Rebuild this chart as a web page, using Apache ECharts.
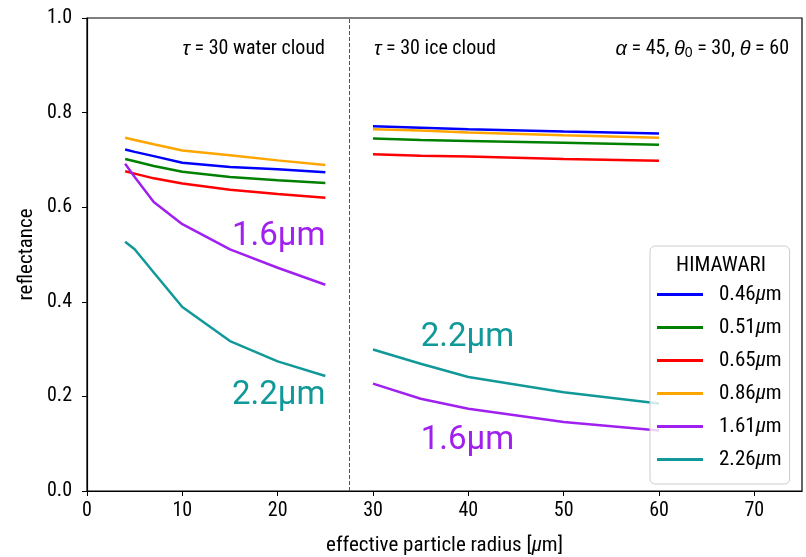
<!DOCTYPE html>
<html>
<head>
<meta charset="utf-8">
<script src="https://cdn.jsdelivr.net/npm/echarts@6/dist/echarts.min.js"></script>
<style>
  html, body { margin: 0; background: #fff; }
  #chart { width: 806px; height: 557px; }
</style>
</head>
<body>
<div id="chart"></div>
<script>
// effective radius sampled for each cloud phase
const waterRadius = [4, 5, 7, 10, 15, 20, 25];
const iceRadius = [30, 35, 40, 50, 60];

// HIMAWARI bands (legend order)
const bands = ['0.46', '0.51', '0.65', '0.86', '1.61', '2.26'];
const bandColors = ['#0000ff', '#008000', '#ff0000', '#ffa500', '#a020f0', '#119999'];

// reflectance, tau = 30 water cloud
const water046 = [0.722, 0.717, 0.708, 0.694, 0.685, 0.680, 0.674];
const water051 = [0.702, 0.697, 0.687, 0.675, 0.664, 0.657, 0.651];
const water065 = [0.676, 0.671, 0.661, 0.650, 0.637, 0.628, 0.620];
const water086 = [0.747, 0.742, 0.733, 0.720, 0.710, 0.699, 0.689];
const water161 = [0.692, 0.664, 0.611, 0.564, 0.511, 0.472, 0.436];
const water226 = [0.527, 0.511, 0.462, 0.389, 0.317, 0.274, 0.243];

// reflectance, tau = 30 ice cloud
const ice046 = [0.771, 0.768, 0.765, 0.760, 0.756];
const ice051 = [0.745, 0.742, 0.740, 0.736, 0.732];
const ice065 = [0.712, 0.709, 0.707, 0.702, 0.698];
const ice086 = [0.765, 0.762, 0.758, 0.752, 0.747];
const ice161 = [0.227, 0.195, 0.174, 0.146, 0.128];
const ice226 = [0.299, 0.269, 0.241, 0.209, 0.185];

const waterSets = [water046, water051, water065, water086, water161, water226];
const iceSets = [ice046, ice051, ice065, ice086, ice161, ice226];

const xTicks = [0, 10, 20, 30, 40, 50, 60, 70];
const phaseSplit = 27.5;

// big in-plot labels: [x, y, text, colour index, side]
const notes = [
  [25, 0.538, '1.6μm', 4, 'left'],
  [25, 0.202, '2.2μm', 5, 'left'],
  [35, 0.323, '2.2μm', 5, 'right'],
  [35, 0.107, '1.6μm', 4, 'right']
];

const font = '"Roboto Condensed", "Liberation Sans Narrow", Roboto, sans-serif';

const chart = echarts.init(document.getElementById('chart'));

const series = [];
bands.forEach((b, i) => {
  const common = {
    name: b,
    type: 'line',
    symbol: 'none',
    color: bandColors[i],
    lineStyle: { width: 2.5, color: bandColors[i] },
    itemStyle: { color: bandColors[i] },
    z: 3
  };
  series.push(Object.assign({}, common, {
    data: waterRadius.map((r, k) => [r, waterSets[i][k]])
  }));
  series.push(Object.assign({}, common, {
    data: iceRadius.map((r, k) => [r, iceSets[i][k]])
  }));
});

// phase divider
series[0].markLine = {
  silent: true,
  symbol: ['none', 'none'],
  label: { show: false },
  lineStyle: { type: [4, 2], color: '#555', width: 1 },
  data: [{ xAxis: phaseSplit }]
};

series.push({
  name: 'notes',
  type: 'scatter',
  symbolSize: 0,
  silent: true,
  itemStyle: { opacity: 1 },
  data: notes.map(n => ({
    value: [n[0], n[1]],
    label: {
      show: true,
      position: n[4],
      distance: 0,
      formatter: n[2],
      color: bandColors[n[3]],
      opacity: 1,
      fontSize: 33,
      fontFamily: 'Roboto, sans-serif'
    }
  }))
});

const option = {
  animation: false,
  backgroundColor: '#fff',
  textStyle: { fontFamily: font },
  grid: {
    left: 87, right: 4, top: 18, bottom: 66,
    show: true, borderColor: '#000', borderWidth: 1.2,
    outerBoundsMode: 'none'
  },
  xAxis: {
    type: 'value',
    min: 0, max: 75,
    name: 'effective particle radius [{i|μ}m]',
    nameLocation: 'middle',
    nameGap: 44,
    nameMoveOverlap: false,
    nameTextStyle: { fontSize: 21, color: '#000', rich: { i: { fontStyle: 'italic', fontSize: 21 } } },
    splitLine: { show: false },
    axisLine: { lineStyle: { color: '#000', width: 1.2 } },
    axisTick: { customValues: xTicks, length: 5, lineStyle: { color: '#000' } },
    axisLabel: { customValues: xTicks, color: '#000', fontSize: 20, margin: 10 }
  },
  yAxis: {
    type: 'value',
    min: 0, max: 1, interval: 0.2,
    name: 'reflectance',
    nameLocation: 'middle',
    nameGap: 50,
    nameMoveOverlap: false,
    nameTextStyle: { fontSize: 21, color: '#000' },
    splitLine: { show: false },
    axisLine: { lineStyle: { color: '#000', width: 1.2 } },
    axisTick: { length: 5, lineStyle: { color: '#000' } },
    axisLabel: { color: '#000', fontSize: 20, margin: 15, formatter: v => v.toFixed(1) }
  },
  legend: {
    orient: 'vertical',
    left: 650, top: 246,
    data: bands,
    icon: 'rect',
    itemWidth: 46, itemHeight: 3, itemGap: 12,
    padding: [38, 8, 14, 7],
    backgroundColor: 'rgba(255,255,255,0.8)',
    borderColor: '#ccc', borderWidth: 1, borderRadius: 5,
    textStyle: {
      fontSize: 21, color: '#000', padding: [0, 0, 0, 11],
      rich: { i: { fontStyle: 'italic', fontSize: 21 } }
    },
    formatter: n => n + '{i|μ}m'
  },
  graphic: [
    {
      type: 'text', z: 100, x: 721, y: 266,
      style: { text: 'HIMAWARI', font: '21px ' + font, fill: '#000', align: 'center', verticalAlign: 'middle' }
    },
    {
      type: 'text', z: 100, x: 325, y: 49,
      style: {
        text: '{i|τ} = 30 water cloud', font: '20px ' + font, fill: '#000', align: 'right', verticalAlign: 'middle',
        rich: { i: { fontStyle: 'italic', fontSize: 20 } }
      }
    },
    {
      type: 'text', z: 100, x: 374, y: 49,
      style: {
        text: '{i|τ} = 30 ice cloud', font: '20px ' + font, fill: '#000', align: 'left', verticalAlign: 'middle',
        rich: { i: { fontStyle: 'italic', fontSize: 20 } }
      }
    },
    {
      type: 'text', z: 100, x: 789, y: 49,
      style: {
        text: '{i|α} = 45, {i|θ}{s|0} = 30, {i|θ} = 60', font: '20px ' + font, fill: '#000', align: 'right', verticalAlign: 'middle',
        rich: {
          i: { fontStyle: 'italic', fontSize: 20 },
          s: { fontSize: 14, padding: [9, 0, 0, 0] }
        }
      }
    }
  ],
  series: series
};

chart.setOption(option);
</script>
</body>
</html>
